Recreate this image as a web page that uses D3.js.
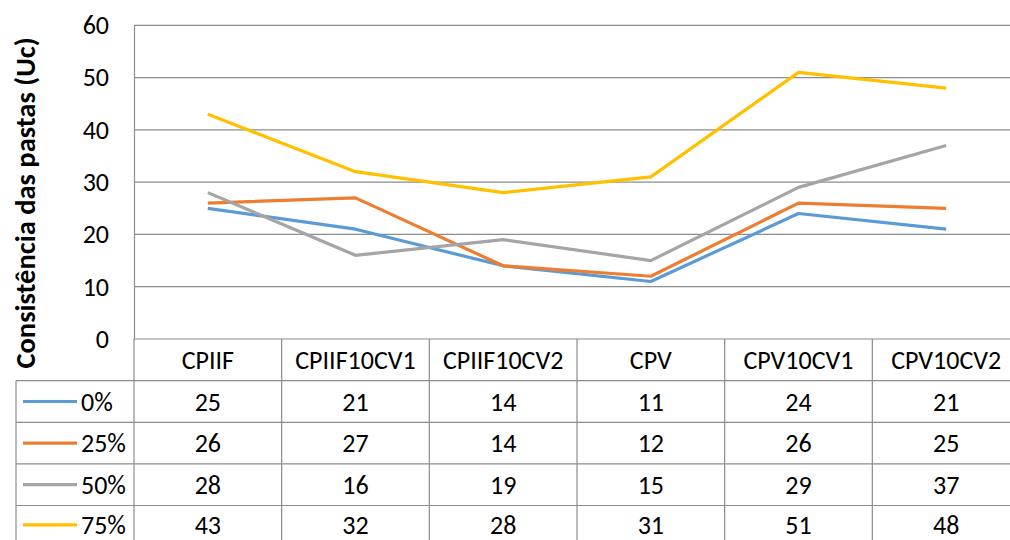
<!DOCTYPE html>
<html><head><meta charset="utf-8">
<script src="https://cdn.jsdelivr.net/npm/d3@7/dist/d3.min.js"></script>
<style>body{margin:0;background:#fff}svg{display:block}text{font-family:Carlito,Calibri,Lato,sans-serif}</style>
</head><body><svg id="c" width="1010" height="540"></svg>
<script>
const categories = ["CPIIF","CPIIF10CV1","CPIIF10CV2","CPV","CPV10CV1","CPV10CV2"];
const seriesNames = ["0%","25%","50%","75%"];
const s0 = [25,21,14,11,24,21];
const s25 = [26,27,14,12,26,25];
const s50 = [28,16,19,15,29,37];
const s75 = [43,32,28,31,51,48];
const colors = ["#5B9BD5","#ED7D31","#A5A5A5","#FFC000"];
const yTicks = [0,10,20,30,40,50,60];
const seriesValues = [s0,s25,s50,s75];

(function(){
const svg = d3.select("#c");
const pLeft = 134, pRight = 1020, pTop = 25.3, pBottom = 339;
const rowH = 41.6, headerH = 41.7;
const grid = "#8C8C8C";
const fs = 26;

const x = d3.scaleBand().domain(categories).range([pLeft,pRight]);
const y = d3.scaleLinear().domain([0,60]).range([pBottom,pTop]);

svg.append("g").selectAll("line").data(yTicks).join("line")
  .attr("x1",pLeft).attr("x2",pRight).attr("y1",d=>y(d)).attr("y2",d=>y(d))
  .attr("stroke",grid).attr("stroke-width",1.2);

const ya = svg.append("g").attr("transform",`translate(${pLeft},0)`)
  .call(d3.axisLeft(y).tickValues(yTicks).tickSize(0).tickPadding(25));
ya.select(".domain").attr("stroke",grid).attr("stroke-width",1.2);
ya.selectAll("text").attr("font-size",fs).attr("fill","#000").style("font-family","Carlito,Calibri,Lato,sans-serif");

svg.append("text").attr("transform",`translate(35,203) rotate(-90)`)
  .attr("text-anchor","middle").attr("font-size",28.5).attr("font-weight","bold").text("Consistência das pastas (Uc)");

const line = d3.line().x((d,i)=>x(categories[i])+x.bandwidth()/2).y(d=>y(d));
svg.append("g").selectAll("path").data(seriesValues).join("path")
  .attr("d",d=>line(d)).attr("fill","none").attr("stroke",(d,i)=>colors[i])
  .attr("stroke-width",3.2).attr("stroke-linejoin","round");

const tb = svg.append("g");
const tableBottom = pBottom + headerH + rowH*4;
categories.forEach(c=>{
  tb.append("line").attr("x1",x(c)).attr("x2",x(c)).attr("y1",pBottom).attr("y2",tableBottom).attr("stroke",grid).attr("stroke-width",1.2);
});
tb.append("line").attr("x1",pRight).attr("x2",pRight).attr("y1",pBottom).attr("y2",tableBottom).attr("stroke",grid);
tb.append("line").attr("x1",16).attr("x2",16).attr("y1",pBottom+headerH).attr("y2",tableBottom).attr("stroke",grid).attr("stroke-width",1.2);
for(let r=0;r<=4;r++){
  const yy = pBottom+headerH+r*rowH;
  tb.append("line").attr("x1",16).attr("x2",pRight).attr("y1",yy).attr("y2",yy).attr("stroke",grid).attr("stroke-width",1.2);
}
tb.selectAll("text.h").data(categories).join("text").attr("class","h")
  .attr("x",d=>x(d)+x.bandwidth()/2).attr("y",pBottom+headerH/2).attr("dy","0.36em")
  .attr("text-anchor","middle").attr("font-size",fs).text(d=>d);
seriesValues.forEach((vals,r)=>{
  const cy = pBottom+headerH+r*rowH+rowH/2 - (r===3?1.5:0);
  tb.append("line").attr("x1",23).attr("x2",77).attr("y1",cy).attr("y2",cy).attr("stroke",colors[r]).attr("stroke-width",3.2);
  tb.append("text").attr("x",81).attr("y",cy).attr("dy","0.36em").attr("font-size",fs).text(seriesNames[r]);
  vals.forEach((v,i)=>{
    tb.append("text").attr("x",x(categories[i])+x.bandwidth()/2).attr("y",cy).attr("dy","0.36em")
      .attr("text-anchor","middle").attr("font-size",fs).text(v);
  });
});
})();
</script></body></html>
